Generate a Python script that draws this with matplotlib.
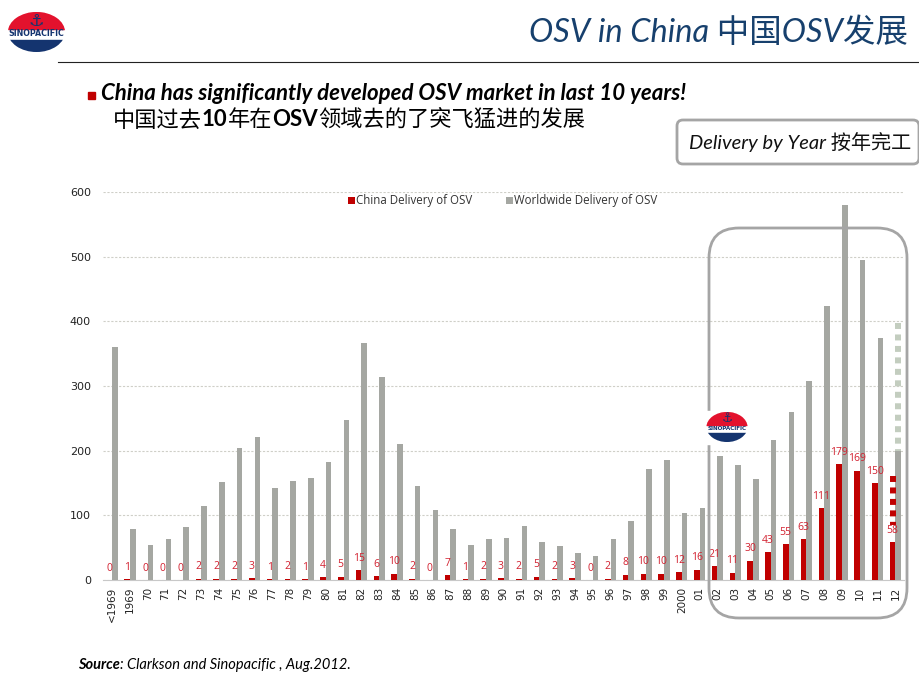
import matplotlib
matplotlib.use('Agg')
from matplotlib import pyplot as plt
from matplotlib.patches import Ellipse, FancyBboxPatch, Rectangle

# valores
years = ['<1969', '1969', '70', '71', '72', '73', '74', '75', '76', '77', '78', '79',
         '80', '81', '82', '83', '84', '85', '86', '87', '88', '89', '90', '91', '92',
         '93', '94', '95', '96', '97', '98', '99', '2000', '01', '02', '03', '04',
         '05', '06', '07', '08', '09', '10', '11', '12']
china = [0, 1, 0, 0, 0, 2, 2, 2, 3, 1, 2, 1, 4, 5, 15, 6, 10, 2, 0, 7, 1, 2, 3, 2, 5,
         2, 3, 0, 2, 8, 10, 10, 12, 16, 21, 11, 30, 43, 55, 63, 111, 179, 169, 150, 58]
world = [361, 79, 54, 64, 82, 115, 151, 204, 221, 142, 153, 158, 182, 248, 366, 314,
         210, 145, 109, 79, 54, 64, 65, 84, 58, 53, 42, 37, 64, 92, 172, 185, 103, 111,
         192, 178, 156, 216, 260, 307, 424, 580, 495, 375, 200]
# tramo punteado de 2012 (arriba, abajo)
china_2012 = [161, 85]
world_2012 = [397, 200]

RED = '#c00000'
GRAY = '#a5a7a2'
NAVY = '#17406d'
CJK = 'Noto Sans CJK SC'

fig = plt.figure(figsize=(9.2, 6.9), dpi=100)

# ejes del grafico, en pixeles de la imagen
left, right, top, bottom = 103.3, 904.3, 192.0, 580.0
ax = fig.add_axes([left / 920, 1 - bottom / 690, (right - left) / 920, (bottom - top) / 690])
x = list(range(len(years)))
w = 0.32
b1 = ax.bar([i - w / 2 for i in x], china, w, color=RED, zorder=3, label='China Delivery of OSV')
b2 = ax.bar([i + w / 2 for i in x], world, w, color=GRAY, zorder=3, label='Worldwide Delivery of OSV')

# 2012: parte punteada (prevision), dibujada de arriba abajo
ax.plot([x[-1] - w / 2] * 2, china_2012, color=RED, lw=4.3, zorder=3,
        linestyle=(0, (1.0, 0.92)), dash_capstyle='butt')
ax.plot([x[-1] + w / 2] * 2, world_2012, color='#c3cdbf', lw=4.3, zorder=3,
        linestyle=(0, (1.0, 0.92)), dash_capstyle='butt')

for i, v in enumerate(china):
    ax.annotate(str(v), (i - w / 2, v), xytext=(0, 8.6), textcoords='offset points',
                ha='center', va='center', color='#d2202f', fontsize=7.5, family='Open Sans', zorder=4)

ax.set_xlim(-0.5, len(years) - 0.5)
ax.set_ylim(0, 600)
ax.set_yticks(range(0, 601, 100))
ax.set_xticks(x)
ax.set_xticklabels(years, rotation=90, fontsize=7.5, family='DejaVu Sans', color='#222222')
ax.tick_params(axis='y', length=0, labelsize=8, labelcolor='#222222', pad=9)
ax.tick_params(axis='x', length=0, pad=5)
ax.grid(axis='y', color='#cfcfc8', linestyle=(0, (2, 1.5)), linewidth=0.8, zorder=0)
ax.set_axisbelow(True)
for s in ['top', 'left', 'right']:
    ax.spines[s].set_visible(False)
ax.spines['bottom'].set_color('#c8c8c8')

ax.legend(handles=[b1, b2], ncol=2, frameon=False, loc='center', bbox_to_anchor=(0.4985, 0.9775),
          prop={'family': 'Open Sans', 'size': 8.3}, handlelength=0.6, handleheight=0.6,
          handletextpad=0.1, columnspacing=2.9, labelcolor='#333333')

# capa encima de todo para los adornos de la diapositiva
ov = fig.add_axes([0, 0, 1, 1], zorder=5)
ov.set_xlim(0, 920)
ov.set_ylim(690, 0)
ov.axis('off')
ov.patch.set_alpha(0)


def logo(cx, cy, ew, eh, fs):
    clip = Ellipse((cx, cy), ew, eh, transform=ov.transData)
    ov.add_patch(Ellipse((cx, cy), ew, eh, color='white', zorder=6))
    red = Rectangle((cx - ew / 2, cy - eh / 2), ew, eh * 0.42, color='#e3122d', zorder=7)
    blue = Rectangle((cx - ew / 2, cy + eh * 0.2), ew, eh * 0.3, color='#14346f', zorder=7)
    for r in (red, blue):
        ov.add_patch(r)
        r.set_clip_path(clip)
    ov.text(cx, cy - eh * 0.27, '\u2693', color='#14346f', fontsize=fs * 2.2, ha='center', va='center',
            family='DejaVu Sans', zorder=8)
    ov.text(cx, cy + eh * 0.05, 'SINOPACIFIC', color='#14346f', fontsize=fs, weight='bold', ha='center',
            va='center', family='DejaVu Sans', zorder=8)


def runs(x0, y0, partes, size, color='black'):
    # escribe trozos seguidos con distinta fuente
    r = fig.canvas.get_renderer()
    for texto, fam, peso, estilo in partes:
        t = ov.text(x0, y0, texto, family=fam, weight=peso, style=estilo, fontsize=size,
                    color=color, va='center', ha='left', zorder=8)
        x0 = ov.transData.inverted().transform(t.get_window_extent(r).get_points())[1][0]


logo(36.5, 32, 57, 40, 5.7)
ov.plot([58, 920], [62, 62], color='#222222', lw=0.8)
ov.text(908, 33, 'OSV in China 中国OSV发展', family=['Lato', CJK], style='italic', fontsize=23.4,
        color=NAVY, ha='right', va='center')

ov.add_patch(Rectangle((88, 92), 7, 7, color=RED))
ov.text(101, 93, 'China has significantly developed OSV market in last 10 years!', family='Lato',
        weight='bold', style='italic', fontsize=16, color='black', va='center')
runs(113, 120, [('中国过去', CJK, 'normal', 'normal'), ('10', 'Lato', 'bold', 'normal'),
                ('年在', CJK, 'normal', 'normal'), ('OSV', 'Lato', 'bold', 'normal'),
                ('领域去的了突飞猛进的发展', CJK, 'normal', 'normal')], 16)

ov.add_patch(FancyBboxPatch((677, 120), 242, 44, boxstyle='round,pad=0,rounding_size=6',
                            fc='white', ec='#a5a5a5', lw=2, zorder=6, clip_on=False))
ov.text(689, 142.5, 'Delivery by Year 按年完工', family=['Lato', CJK], style='italic', fontsize=14.5,
        color='#111111', va='center', zorder=8)

ov.add_patch(FancyBboxPatch((709, 228), 198, 390, boxstyle='round,pad=0,rounding_size=30',
                            fc='none', ec='#a5a5a5', lw=2, zorder=5))
ov.add_patch(Rectangle((700, 411), 60, 33, color='white', zorder=5.5))
logo(727, 427, 41, 30, 4.1)

runs(78, 665, [('Source', 'Lato', 'bold', 'italic'),
               (': Clarkson and Sinopacific , Aug.2012.', 'Lato', 'normal', 'italic')], 10.5)

fig.savefig('out.png', dpi=100)
